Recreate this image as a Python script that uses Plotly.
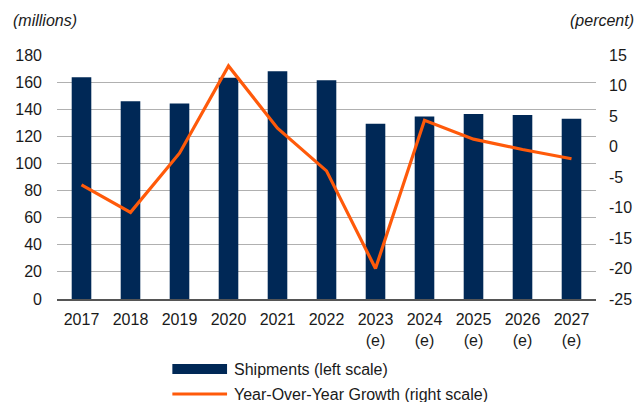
import plotly.graph_objects as go

# Annual shipments (millions) and year-over-year growth (percent)
years = ["2017", "2018", "2019", "2020", "2021", "2022",
         "2023<br>(e)", "2024<br>(e)", "2025<br>(e)", "2026<br>(e)", "2027<br>(e)"]
shipments = [163.5, 145.8, 144.3, 163.2, 168.1, 161.3, 129.3, 134.7, 136.4, 135.7, 133.0]
growth = [-6.3, -10.8, -1.1, 13.2, 3.0, -4.0, -20.0, 4.3, 1.2, -0.5, -2.0]

# Right-axis ticks, labelled with a plain hyphen for negatives
growth_ticks = [15, 10, 5, 0, -5, -10, -15, -20, -25]
growth_tick_labels = ["15", "10", "5", "0", "-5", "-10", "-15", "-20", "-25"]

NAVY = "#002856"
ORANGE = "#FF5A0A"
FONT = "Liberation Sans, Arial, sans-serif"

fig = go.Figure()
fig.add_trace(go.Bar(
    x=years, y=shipments, name="Shipments (left scale)",
    marker=dict(color=NAVY, line=dict(width=0)), yaxis="y",
    showlegend=False,
))
fig.add_trace(go.Scatter(
    x=years, y=growth, name="Year-Over-Year Growth (right scale)",
    mode="lines", line=dict(color=ORANGE, width=3.2), yaxis="y2",
    showlegend=False,
))

fig.update_layout(
    width=644, height=402,
    margin=dict(l=57, r=45, t=55, b=103),
    paper_bgcolor="white", plot_bgcolor="white",
    font=dict(family=FONT, size=16, color="#1a1a1a"),
    bargap=0.6,
    xaxis=dict(
        type="category", showgrid=False, ticks="", showline=True,
        linecolor="#555555", linewidth=1.5, tickfont=dict(size=16),
        ticklabelstandoff=5,
    ),
    yaxis=dict(
        range=[0, 180], dtick=20, showgrid=True, gridcolor="#b0b0b0",
        gridwidth=1.2, zeroline=False, ticks="", ticklabelstandoff=14,
    ),
    yaxis2=dict(
        range=[-25, 15], tickmode="array", tickvals=growth_ticks,
        ticktext=growth_tick_labels, overlaying="y", side="right",
        showgrid=False, zeroline=False, ticks="", ticklabelstandoff=12,
    ),
)

# Axis unit captions
fig.add_annotation(text="<i>(millions)</i>", xref="paper", yref="paper",
                   x=-57 / 542 + 11 / 542, y=1 + 34 / 244, xanchor="left",
                   yanchor="middle", showarrow=False, font=dict(size=16))
fig.add_annotation(text="<i>(percent)</i>", xref="paper", yref="paper",
                   x=1 + 40 / 542, y=1 + 35 / 244, xanchor="right",
                   yanchor="middle", showarrow=False, font=dict(size=16))

# Legend drawn below the plot: a bar swatch and a line swatch with labels
px = lambda v: (v - 57) / 542
py = lambda v: (299 - v) / 244
fig.add_shape(type="rect", xref="paper", yref="paper",
              x0=px(173), x1=px(228), y0=py(374), y1=py(364),
              fillcolor=NAVY, line=dict(width=0))
fig.add_shape(type="line", xref="paper", yref="paper",
              x0=px(173), x1=px(228), y0=py(394), y1=py(394),
              line=dict(color=ORANGE, width=3.2))
fig.add_annotation(text="Shipments (left scale)", xref="paper", yref="paper",
                   x=px(233), y=py(369), xanchor="left", yanchor="middle",
                   showarrow=False, font=dict(size=16))
fig.add_annotation(text="Year-Over-Year Growth (right scale)", xref="paper",
                   yref="paper", x=px(233), y=py(394), xanchor="left",
                   yanchor="middle", showarrow=False, font=dict(size=16))

fig.write_html("out.html")
